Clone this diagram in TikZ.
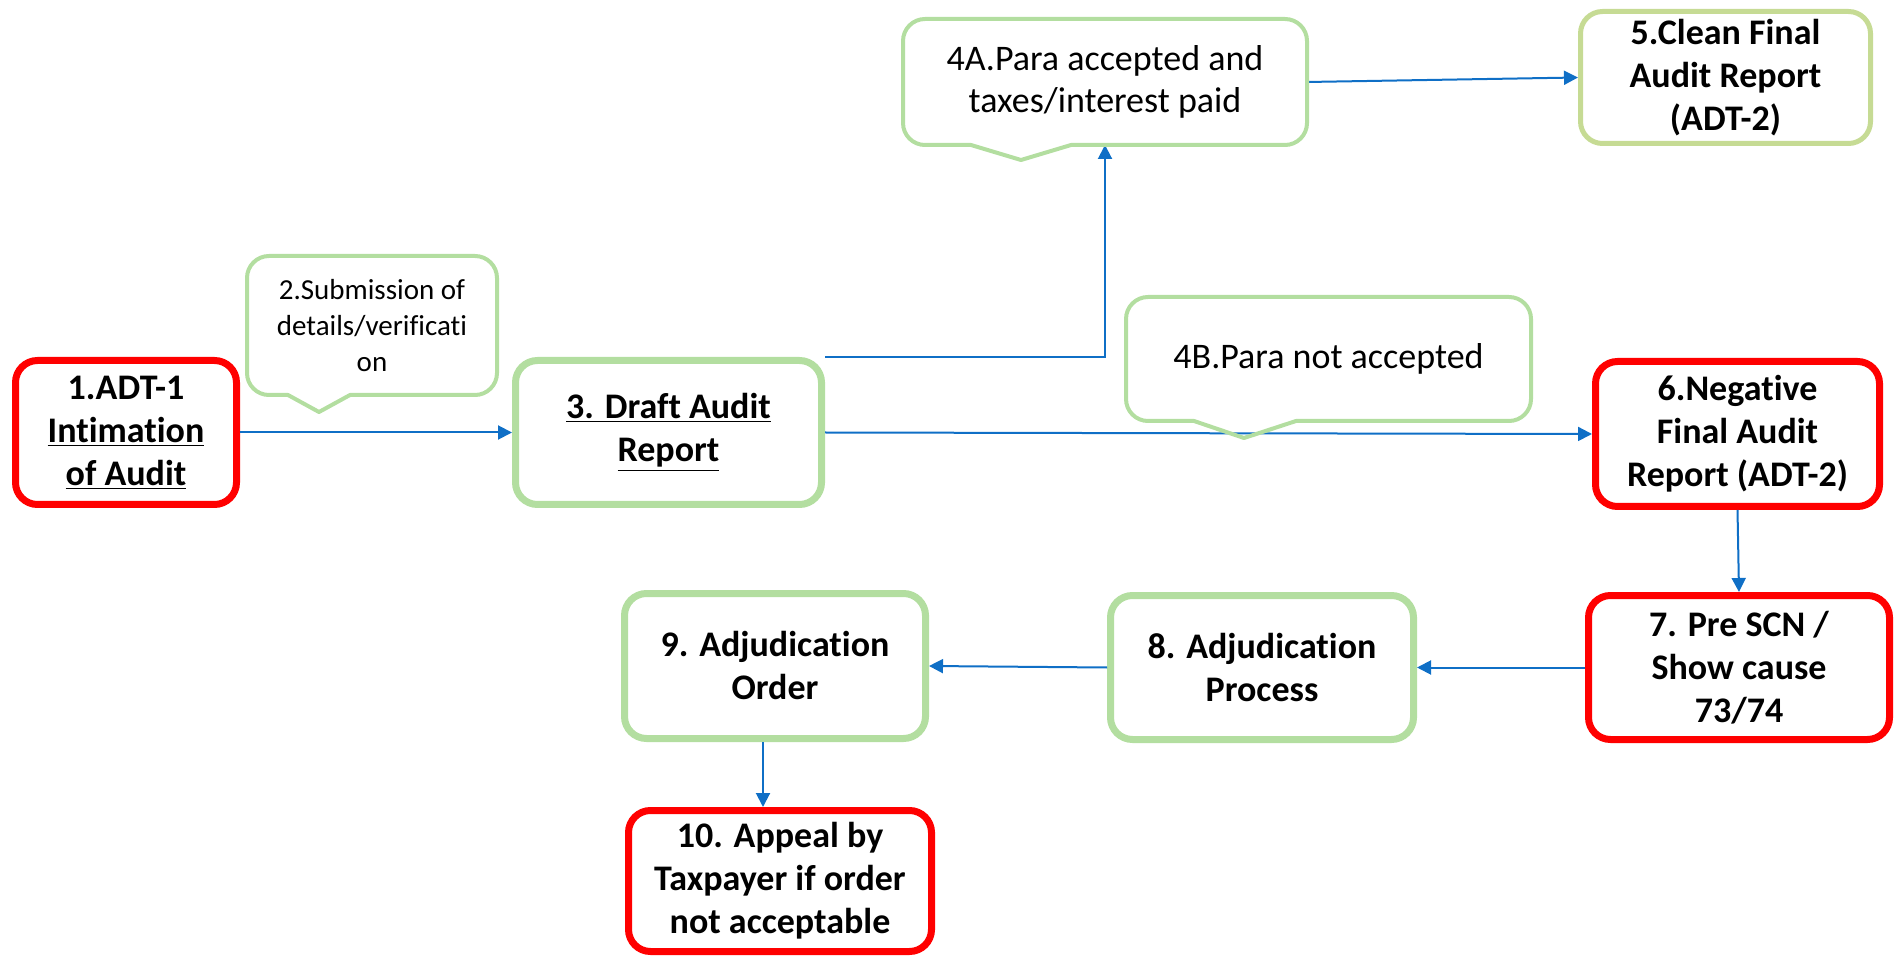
\documentclass[tikz,border=0pt]{standalone}
\usepackage{fontspec}
\setmainfont[RawFeature={-liga;-clig}]{Carlito}
\usetikzlibrary{arrows.meta,calc}
\definecolor{redb}{HTML}{FF0000}
\definecolor{greenb}{HTML}{B3DEA0}
\definecolor{oliveb}{HTML}{C6DB94}
\definecolor{arrowblue}{HTML}{0F6FC6}
\begin{document}
\begin{tikzpicture}[x=0.5pt,y=-0.5pt,
  box/.style={rectangle, rounded corners=11pt, line width=3.5pt, align=center,
    font=\fontsize{18}{21.5}\selectfont\bfseries, inner sep=2pt},
  redbox/.style={box, draw=redb},
  greenbox/.style={box, draw=greenb},
  cbody/.style={rectangle, outer sep=0pt, inner sep=2pt, align=center},
  cline/.style={draw=greenb, line width=2pt, line join=round},
  arr/.style={draw=arrowblue, line width=1pt, -{Triangle[length=7pt,width=7pt]}}]
\useasboundingbox (0,0) rectangle (1900,956);

% boxes
\node[redbox, minimum width=110.5pt, minimum height=72pt] (b1) at (126,432.5)
  {1.ADT-1\\\underline{Intimation}\\\underline{of Audit}};
\node[greenbox, minimum width=153pt, minimum height=72pt] (b3) at (668.5,432.5)
  {\underline{3. Draft Audit}\\\underline{Report}};
\node[box, draw=oliveb, line width=2.5pt, minimum width=145pt, minimum height=66pt] (b5) at (1725.5,77.5)
  {5.Clean Final\\Audit Report\\(ADT-2)};
\node[redbox, minimum width=142pt, minimum height=72.5pt] (b6) at (1737.5,434)
  {6.Negative\\Final Audit\\Report (ADT-2)};
\node[redbox, minimum width=150.5pt, minimum height=72pt] (b7) at (1739,667.5)
  {7. Pre SCN /\\Show cause\\73/74};
\node[greenbox, minimum width=151.5pt, minimum height=72pt] (b8) at (1262,667.5)
  {8. Adjudication\\Process};
\node[greenbox, minimum width=150.5pt, minimum height=72.5pt] (b9) at (775,666)
  {9. Adjudication\\Order};
\node[redbox, minimum width=151.5pt, minimum height=70.5pt] (b10) at (780,881)
  {10. Appeal by\\Taxpayer if order\\not acceptable};

% callout bodies
\node[cbody, minimum width=125pt, minimum height=69.5pt, font=\fontsize{14.5}{18}\selectfont] (c2) at (372,325.5)
  {2.Submission of\\details/verificati\\on};
\node[cbody, minimum width=202pt, minimum height=63pt, font=\fontsize{18}{21}\selectfont] (c4a) at (1105,82)
  {4A.Para accepted and\\taxes/interest paid};
\node[cbody, minimum width=202.5pt, minimum height=62pt, font=\fontsize{18}{21}\selectfont] (c4b) at (1328.5,359)
  {4B.Para not accepted};

% connectors
\draw[arr] (b1.east) -- (b3.west);
\draw[arr] (b3.north east) -| (c4a.south);
\draw[arr] (c4a.east) -- (b5.west);
\draw[arr] (b3.east) -- (b6.west);
\draw[arr] (b6.south) -- (b7.north);
\draw[arr] (b7.west) -- (b8.east);
\draw[arr] (b8.west) -- (b9.east);
\draw[arr] ([xshift=-6pt]b9.south) -- ([xshift=-6pt]b9.south |- b10.north);

% callout outlines
\draw[cline] ($(c2.south)+(-84,0)$) [rounded corners=11pt] -- (c2.south west) -- (c2.north west)
  -- (c2.north east) -- (c2.south east) [sharp corners] -- ($(c2.south)+(-22,0)$)
  -- ($(c2.south)+(-53,17)$) -- cycle;
\draw[cline] ($(c4a.south)+(-134,0)$) [rounded corners=11pt] -- (c4a.south west) -- (c4a.north west)
  -- (c4a.north east) -- (c4a.south east) [sharp corners] -- ($(c4a.south)+(-34,0)$)
  -- ($(c4a.south)+(-84,15)$) -- cycle;
\draw[cline] ($(c4b.south)+(-134.5,0)$) [rounded corners=11pt] -- (c4b.south west) -- (c4b.north west)
  -- (c4b.north east) -- (c4b.south east) [sharp corners] -- ($(c4b.south)+(-32.5,0)$)
  -- ($(c4b.south)+(-84.5,17)$) -- cycle;
\end{tikzpicture}
\end{document}
